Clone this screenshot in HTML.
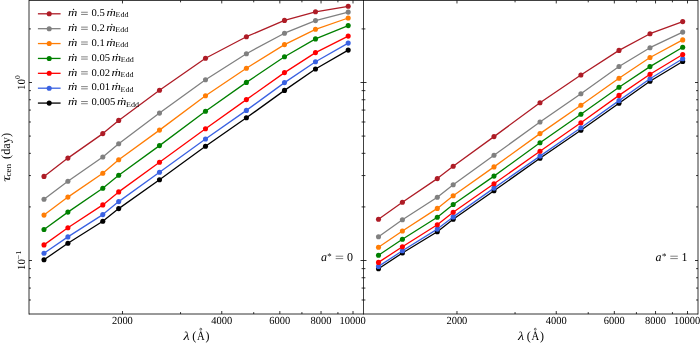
<!DOCTYPE html>
<html><head><meta charset="utf-8"><style>
html,body{margin:0;padding:0;background:#fff;}
body{width:700px;height:343px;overflow:hidden;font-family:"Liberation Serif",serif;}
svg{display:block;text-rendering:geometricPrecision;will-change:transform;}
</style></head><body>
<svg width="700" height="343" viewBox="0 0 700 343"><polyline points="44,259.8 67.9,243.2 102.8,221.2 118.7,208.6 159.5,179.7 205.5,146.3 246.4,117.8 284.5,90.4 315.5,69 348.2,50.1" fill="none" stroke="#000000" stroke-width="1.3" stroke-linejoin="round"/><circle cx="44" cy="259.8" r="2.55" fill="#000000"/><circle cx="67.9" cy="243.2" r="2.55" fill="#000000"/><circle cx="102.8" cy="221.2" r="2.55" fill="#000000"/><circle cx="118.7" cy="208.6" r="2.55" fill="#000000"/><circle cx="159.5" cy="179.7" r="2.55" fill="#000000"/><circle cx="205.5" cy="146.3" r="2.55" fill="#000000"/><circle cx="246.4" cy="117.8" r="2.55" fill="#000000"/><circle cx="284.5" cy="90.4" r="2.55" fill="#000000"/><circle cx="315.5" cy="69" r="2.55" fill="#000000"/><circle cx="348.2" cy="50.1" r="2.55" fill="#000000"/><polyline points="44,253.3 67.9,236.9 102.8,214.6 118.7,201.6 159.5,172.2 205.5,139 246.4,110.4 284.5,82.6 315.5,61.7 348.2,43.1" fill="none" stroke="#3a62e2" stroke-width="1.3" stroke-linejoin="round"/><circle cx="44" cy="253.3" r="2.55" fill="#3a62e2"/><circle cx="67.9" cy="236.9" r="2.55" fill="#3a62e2"/><circle cx="102.8" cy="214.6" r="2.55" fill="#3a62e2"/><circle cx="118.7" cy="201.6" r="2.55" fill="#3a62e2"/><circle cx="159.5" cy="172.2" r="2.55" fill="#3a62e2"/><circle cx="205.5" cy="139" r="2.55" fill="#3a62e2"/><circle cx="246.4" cy="110.4" r="2.55" fill="#3a62e2"/><circle cx="284.5" cy="82.6" r="2.55" fill="#3a62e2"/><circle cx="315.5" cy="61.7" r="2.55" fill="#3a62e2"/><circle cx="348.2" cy="43.1" r="2.55" fill="#3a62e2"/><polyline points="44,244.9 67.9,227.7 102.8,204.9 118.7,191.9 159.5,162.2 205.5,128.8 246.4,99.6 284.5,72.6 315.5,52.6 348.2,36.1" fill="none" stroke="#ff0000" stroke-width="1.3" stroke-linejoin="round"/><circle cx="44" cy="244.9" r="2.55" fill="#ff0000"/><circle cx="67.9" cy="227.7" r="2.55" fill="#ff0000"/><circle cx="102.8" cy="204.9" r="2.55" fill="#ff0000"/><circle cx="118.7" cy="191.9" r="2.55" fill="#ff0000"/><circle cx="159.5" cy="162.2" r="2.55" fill="#ff0000"/><circle cx="205.5" cy="128.8" r="2.55" fill="#ff0000"/><circle cx="246.4" cy="99.6" r="2.55" fill="#ff0000"/><circle cx="284.5" cy="72.6" r="2.55" fill="#ff0000"/><circle cx="315.5" cy="52.6" r="2.55" fill="#ff0000"/><circle cx="348.2" cy="36.1" r="2.55" fill="#ff0000"/><polyline points="44,229.5 67.9,212.1 102.8,188.3 118.7,175.3 159.5,145.6 205.5,111.3 246.4,82.4 284.5,56.8 315.5,38.9 348.2,25.6" fill="none" stroke="#008000" stroke-width="1.3" stroke-linejoin="round"/><circle cx="44" cy="229.5" r="2.55" fill="#008000"/><circle cx="67.9" cy="212.1" r="2.55" fill="#008000"/><circle cx="102.8" cy="188.3" r="2.55" fill="#008000"/><circle cx="118.7" cy="175.3" r="2.55" fill="#008000"/><circle cx="159.5" cy="145.6" r="2.55" fill="#008000"/><circle cx="205.5" cy="111.3" r="2.55" fill="#008000"/><circle cx="246.4" cy="82.4" r="2.55" fill="#008000"/><circle cx="284.5" cy="56.8" r="2.55" fill="#008000"/><circle cx="315.5" cy="38.9" r="2.55" fill="#008000"/><circle cx="348.2" cy="25.6" r="2.55" fill="#008000"/><polyline points="44,215.1 67.9,197.1 102.8,173.3 118.7,159.8 159.5,130.1 205.5,95.8 246.4,68.2 284.5,44.6 315.5,29.3 348.2,18" fill="none" stroke="#ff7d05" stroke-width="1.3" stroke-linejoin="round"/><circle cx="44" cy="215.1" r="2.55" fill="#ff7d05"/><circle cx="67.9" cy="197.1" r="2.55" fill="#ff7d05"/><circle cx="102.8" cy="173.3" r="2.55" fill="#ff7d05"/><circle cx="118.7" cy="159.8" r="2.55" fill="#ff7d05"/><circle cx="159.5" cy="130.1" r="2.55" fill="#ff7d05"/><circle cx="205.5" cy="95.8" r="2.55" fill="#ff7d05"/><circle cx="246.4" cy="68.2" r="2.55" fill="#ff7d05"/><circle cx="284.5" cy="44.6" r="2.55" fill="#ff7d05"/><circle cx="315.5" cy="29.3" r="2.55" fill="#ff7d05"/><circle cx="348.2" cy="18" r="2.55" fill="#ff7d05"/><polyline points="44,199.3 67.9,181.3 102.8,157 118.7,143.7 159.5,113.1 205.5,79.7 246.4,53.7 284.5,33.2 315.5,20.6 348.2,12.1" fill="none" stroke="#808080" stroke-width="1.3" stroke-linejoin="round"/><circle cx="44" cy="199.3" r="2.55" fill="#808080"/><circle cx="67.9" cy="181.3" r="2.55" fill="#808080"/><circle cx="102.8" cy="157" r="2.55" fill="#808080"/><circle cx="118.7" cy="143.7" r="2.55" fill="#808080"/><circle cx="159.5" cy="113.1" r="2.55" fill="#808080"/><circle cx="205.5" cy="79.7" r="2.55" fill="#808080"/><circle cx="246.4" cy="53.7" r="2.55" fill="#808080"/><circle cx="284.5" cy="33.2" r="2.55" fill="#808080"/><circle cx="315.5" cy="20.6" r="2.55" fill="#808080"/><circle cx="348.2" cy="12.1" r="2.55" fill="#808080"/><polyline points="44,176.4 67.9,158.1 102.8,133.6 118.7,120.4 159.5,90.3 205.5,58.3 246.4,36.7 284.5,20.4 315.5,11.8 348.2,6.3" fill="none" stroke="#ae1c26" stroke-width="1.3" stroke-linejoin="round"/><circle cx="44" cy="176.4" r="2.55" fill="#ae1c26"/><circle cx="67.9" cy="158.1" r="2.55" fill="#ae1c26"/><circle cx="102.8" cy="133.6" r="2.55" fill="#ae1c26"/><circle cx="118.7" cy="120.4" r="2.55" fill="#ae1c26"/><circle cx="159.5" cy="90.3" r="2.55" fill="#ae1c26"/><circle cx="205.5" cy="58.3" r="2.55" fill="#ae1c26"/><circle cx="246.4" cy="36.7" r="2.55" fill="#ae1c26"/><circle cx="284.5" cy="20.4" r="2.55" fill="#ae1c26"/><circle cx="315.5" cy="11.8" r="2.55" fill="#ae1c26"/><circle cx="348.2" cy="6.3" r="2.55" fill="#ae1c26"/><polyline points="378.5,268.7 402.4,253 437.3,231.7 453.2,219.2 494,190.7 540,158.3 580.9,130.3 619,103.2 650,81.3 682.7,61.5" fill="none" stroke="#000000" stroke-width="1.3" stroke-linejoin="round"/><circle cx="378.5" cy="268.7" r="2.55" fill="#000000"/><circle cx="402.4" cy="253" r="2.55" fill="#000000"/><circle cx="437.3" cy="231.7" r="2.55" fill="#000000"/><circle cx="453.2" cy="219.2" r="2.55" fill="#000000"/><circle cx="494" cy="190.7" r="2.55" fill="#000000"/><circle cx="540" cy="158.3" r="2.55" fill="#000000"/><circle cx="580.9" cy="130.3" r="2.55" fill="#000000"/><circle cx="619" cy="103.2" r="2.55" fill="#000000"/><circle cx="650" cy="81.3" r="2.55" fill="#000000"/><circle cx="682.7" cy="61.5" r="2.55" fill="#000000"/><polyline points="378.5,266.4 402.4,250.8 437.3,229.1 453.2,216.9 494,188.1 540,156.1 580.9,127.7 619,100.6 650,78.7 682.7,58.8" fill="none" stroke="#3a62e2" stroke-width="1.3" stroke-linejoin="round"/><circle cx="378.5" cy="266.4" r="2.55" fill="#3a62e2"/><circle cx="402.4" cy="250.8" r="2.55" fill="#3a62e2"/><circle cx="437.3" cy="229.1" r="2.55" fill="#3a62e2"/><circle cx="453.2" cy="216.9" r="2.55" fill="#3a62e2"/><circle cx="494" cy="188.1" r="2.55" fill="#3a62e2"/><circle cx="540" cy="156.1" r="2.55" fill="#3a62e2"/><circle cx="580.9" cy="127.7" r="2.55" fill="#3a62e2"/><circle cx="619" cy="100.6" r="2.55" fill="#3a62e2"/><circle cx="650" cy="78.7" r="2.55" fill="#3a62e2"/><circle cx="682.7" cy="58.8" r="2.55" fill="#3a62e2"/><polyline points="378.5,262.4 402.4,246.7 437.3,224.7 453.2,212.2 494,183.7 540,151.3 580.9,122.8 619,95.4 650,74.3 682.7,54.5" fill="none" stroke="#ff0000" stroke-width="1.3" stroke-linejoin="round"/><circle cx="378.5" cy="262.4" r="2.55" fill="#ff0000"/><circle cx="402.4" cy="246.7" r="2.55" fill="#ff0000"/><circle cx="437.3" cy="224.7" r="2.55" fill="#ff0000"/><circle cx="453.2" cy="212.2" r="2.55" fill="#ff0000"/><circle cx="494" cy="183.7" r="2.55" fill="#ff0000"/><circle cx="540" cy="151.3" r="2.55" fill="#ff0000"/><circle cx="580.9" cy="122.8" r="2.55" fill="#ff0000"/><circle cx="619" cy="95.4" r="2.55" fill="#ff0000"/><circle cx="650" cy="74.3" r="2.55" fill="#ff0000"/><circle cx="682.7" cy="54.5" r="2.55" fill="#ff0000"/><polyline points="378.5,255.3 402.4,239.3 437.3,217.2 453.2,204.5 494,176.1 540,142.8 580.9,114.3 619,87.3 650,66.6 682.7,47.3" fill="none" stroke="#008000" stroke-width="1.3" stroke-linejoin="round"/><circle cx="378.5" cy="255.3" r="2.55" fill="#008000"/><circle cx="402.4" cy="239.3" r="2.55" fill="#008000"/><circle cx="437.3" cy="217.2" r="2.55" fill="#008000"/><circle cx="453.2" cy="204.5" r="2.55" fill="#008000"/><circle cx="494" cy="176.1" r="2.55" fill="#008000"/><circle cx="540" cy="142.8" r="2.55" fill="#008000"/><circle cx="580.9" cy="114.3" r="2.55" fill="#008000"/><circle cx="619" cy="87.3" r="2.55" fill="#008000"/><circle cx="650" cy="66.6" r="2.55" fill="#008000"/><circle cx="682.7" cy="47.3" r="2.55" fill="#008000"/><polyline points="378.5,247.3 402.4,231 437.3,208.4 453.2,195.8 494,166.9 540,133.6 580.9,105.2 619,78.2 650,57.5 682.7,39.9" fill="none" stroke="#ff7d05" stroke-width="1.3" stroke-linejoin="round"/><circle cx="378.5" cy="247.3" r="2.55" fill="#ff7d05"/><circle cx="402.4" cy="231" r="2.55" fill="#ff7d05"/><circle cx="437.3" cy="208.4" r="2.55" fill="#ff7d05"/><circle cx="453.2" cy="195.8" r="2.55" fill="#ff7d05"/><circle cx="494" cy="166.9" r="2.55" fill="#ff7d05"/><circle cx="540" cy="133.6" r="2.55" fill="#ff7d05"/><circle cx="580.9" cy="105.2" r="2.55" fill="#ff7d05"/><circle cx="619" cy="78.2" r="2.55" fill="#ff7d05"/><circle cx="650" cy="57.5" r="2.55" fill="#ff7d05"/><circle cx="682.7" cy="39.9" r="2.55" fill="#ff7d05"/><polyline points="378.5,236.7 402.4,219.8 437.3,197.3 453.2,184.7 494,155.3 540,122 580.9,93.7 619,66.5 650,47.7 682.7,32.1" fill="none" stroke="#808080" stroke-width="1.3" stroke-linejoin="round"/><circle cx="378.5" cy="236.7" r="2.55" fill="#808080"/><circle cx="402.4" cy="219.8" r="2.55" fill="#808080"/><circle cx="437.3" cy="197.3" r="2.55" fill="#808080"/><circle cx="453.2" cy="184.7" r="2.55" fill="#808080"/><circle cx="494" cy="155.3" r="2.55" fill="#808080"/><circle cx="540" cy="122" r="2.55" fill="#808080"/><circle cx="580.9" cy="93.7" r="2.55" fill="#808080"/><circle cx="619" cy="66.5" r="2.55" fill="#808080"/><circle cx="650" cy="47.7" r="2.55" fill="#808080"/><circle cx="682.7" cy="32.1" r="2.55" fill="#808080"/><polyline points="378.5,219.2 402.4,202.3 437.3,178.6 453.2,166.3 494,136.6 540,102.8 580.9,75 619,50.4 650,33.7 682.7,21.6" fill="none" stroke="#ae1c26" stroke-width="1.3" stroke-linejoin="round"/><circle cx="378.5" cy="219.2" r="2.55" fill="#ae1c26"/><circle cx="402.4" cy="202.3" r="2.55" fill="#ae1c26"/><circle cx="437.3" cy="178.6" r="2.55" fill="#ae1c26"/><circle cx="453.2" cy="166.3" r="2.55" fill="#ae1c26"/><circle cx="494" cy="136.6" r="2.55" fill="#ae1c26"/><circle cx="540" cy="102.8" r="2.55" fill="#ae1c26"/><circle cx="580.9" cy="75" r="2.55" fill="#ae1c26"/><circle cx="619" cy="50.4" r="2.55" fill="#ae1c26"/><circle cx="650" cy="33.7" r="2.55" fill="#ae1c26"/><circle cx="682.7" cy="21.6" r="2.55" fill="#ae1c26"/><g stroke="#000" stroke-width="0.8" fill="none"><line x1="29.0" y1="0.45" x2="698.0" y2="0.45"/><line x1="29.0" y1="314.0" x2="698.0" y2="314.0"/><line x1="29.0" y1="0" x2="29.0" y2="314.5"/><line x1="698.0" y1="0" x2="698.0" y2="314.5"/><line x1="363.5" y1="0" x2="363.5" y2="314.5" stroke-width="0.75"/><line x1="122.48" y1="0.45" x2="122.48" y2="3.45"/><line x1="122.48" y1="314.0" x2="122.48" y2="311"/><line x1="221.76" y1="0.45" x2="221.76" y2="3.45"/><line x1="221.76" y1="314.0" x2="221.76" y2="311"/><line x1="279.83" y1="0.45" x2="279.83" y2="3.45"/><line x1="279.83" y1="314.0" x2="279.83" y2="311"/><line x1="321.04" y1="0.45" x2="321.04" y2="3.45"/><line x1="321.04" y1="314.0" x2="321.04" y2="311"/><line x1="353" y1="0.45" x2="353" y2="3.45"/><line x1="353" y1="314.0" x2="353" y2="311"/><line x1="180.55" y1="0.45" x2="180.55" y2="2.35"/><line x1="180.55" y1="314.0" x2="180.55" y2="312.1"/><line x1="253.72" y1="0.45" x2="253.72" y2="2.35"/><line x1="253.72" y1="314.0" x2="253.72" y2="312.1"/><line x1="301.91" y1="0.45" x2="301.91" y2="2.35"/><line x1="301.91" y1="314.0" x2="301.91" y2="312.1"/><line x1="337.91" y1="0.45" x2="337.91" y2="2.35"/><line x1="337.91" y1="314.0" x2="337.91" y2="312.1"/><line x1="29" y1="260.5" x2="32" y2="260.5"/><line x1="363.5" y1="260.5" x2="360.5" y2="260.5"/><line x1="29" y1="82.5" x2="32" y2="82.5"/><line x1="363.5" y1="82.5" x2="360.5" y2="82.5"/><line x1="29" y1="299.99" x2="30.9" y2="299.99"/><line x1="363.5" y1="299.99" x2="361.6" y2="299.99"/><line x1="29" y1="288.07" x2="30.9" y2="288.07"/><line x1="363.5" y1="288.07" x2="361.6" y2="288.07"/><line x1="29" y1="277.75" x2="30.9" y2="277.75"/><line x1="363.5" y1="277.75" x2="361.6" y2="277.75"/><line x1="29" y1="268.64" x2="30.9" y2="268.64"/><line x1="363.5" y1="268.64" x2="361.6" y2="268.64"/><line x1="29" y1="206.92" x2="30.9" y2="206.92"/><line x1="363.5" y1="206.92" x2="361.6" y2="206.92"/><line x1="29" y1="175.57" x2="30.9" y2="175.57"/><line x1="363.5" y1="175.57" x2="361.6" y2="175.57"/><line x1="29" y1="153.33" x2="30.9" y2="153.33"/><line x1="363.5" y1="153.33" x2="361.6" y2="153.33"/><line x1="29" y1="136.08" x2="30.9" y2="136.08"/><line x1="363.5" y1="136.08" x2="361.6" y2="136.08"/><line x1="29" y1="121.99" x2="30.9" y2="121.99"/><line x1="363.5" y1="121.99" x2="361.6" y2="121.99"/><line x1="29" y1="110.07" x2="30.9" y2="110.07"/><line x1="363.5" y1="110.07" x2="361.6" y2="110.07"/><line x1="29" y1="99.75" x2="30.9" y2="99.75"/><line x1="363.5" y1="99.75" x2="361.6" y2="99.75"/><line x1="29" y1="90.64" x2="30.9" y2="90.64"/><line x1="363.5" y1="90.64" x2="361.6" y2="90.64"/><line x1="29" y1="28.92" x2="30.9" y2="28.92"/><line x1="363.5" y1="28.92" x2="361.6" y2="28.92"/><line x1="456.98" y1="0.45" x2="456.98" y2="3.45"/><line x1="456.98" y1="314.0" x2="456.98" y2="311"/><line x1="556.26" y1="0.45" x2="556.26" y2="3.45"/><line x1="556.26" y1="314.0" x2="556.26" y2="311"/><line x1="614.33" y1="0.45" x2="614.33" y2="3.45"/><line x1="614.33" y1="314.0" x2="614.33" y2="311"/><line x1="655.54" y1="0.45" x2="655.54" y2="3.45"/><line x1="655.54" y1="314.0" x2="655.54" y2="311"/><line x1="687.5" y1="0.45" x2="687.5" y2="3.45"/><line x1="687.5" y1="314.0" x2="687.5" y2="311"/><line x1="515.05" y1="0.45" x2="515.05" y2="2.35"/><line x1="515.05" y1="314.0" x2="515.05" y2="312.1"/><line x1="588.22" y1="0.45" x2="588.22" y2="2.35"/><line x1="588.22" y1="314.0" x2="588.22" y2="312.1"/><line x1="636.41" y1="0.45" x2="636.41" y2="2.35"/><line x1="636.41" y1="314.0" x2="636.41" y2="312.1"/><line x1="672.41" y1="0.45" x2="672.41" y2="2.35"/><line x1="672.41" y1="314.0" x2="672.41" y2="312.1"/><line x1="363.5" y1="260.5" x2="366.5" y2="260.5"/><line x1="698" y1="260.5" x2="695" y2="260.5"/><line x1="363.5" y1="82.5" x2="366.5" y2="82.5"/><line x1="698" y1="82.5" x2="695" y2="82.5"/><line x1="363.5" y1="299.99" x2="365.4" y2="299.99"/><line x1="698" y1="299.99" x2="696.1" y2="299.99"/><line x1="363.5" y1="288.07" x2="365.4" y2="288.07"/><line x1="698" y1="288.07" x2="696.1" y2="288.07"/><line x1="363.5" y1="277.75" x2="365.4" y2="277.75"/><line x1="698" y1="277.75" x2="696.1" y2="277.75"/><line x1="363.5" y1="268.64" x2="365.4" y2="268.64"/><line x1="698" y1="268.64" x2="696.1" y2="268.64"/><line x1="363.5" y1="206.92" x2="365.4" y2="206.92"/><line x1="698" y1="206.92" x2="696.1" y2="206.92"/><line x1="363.5" y1="175.57" x2="365.4" y2="175.57"/><line x1="698" y1="175.57" x2="696.1" y2="175.57"/><line x1="363.5" y1="153.33" x2="365.4" y2="153.33"/><line x1="698" y1="153.33" x2="696.1" y2="153.33"/><line x1="363.5" y1="136.08" x2="365.4" y2="136.08"/><line x1="698" y1="136.08" x2="696.1" y2="136.08"/><line x1="363.5" y1="121.99" x2="365.4" y2="121.99"/><line x1="698" y1="121.99" x2="696.1" y2="121.99"/><line x1="363.5" y1="110.07" x2="365.4" y2="110.07"/><line x1="698" y1="110.07" x2="696.1" y2="110.07"/><line x1="363.5" y1="99.75" x2="365.4" y2="99.75"/><line x1="698" y1="99.75" x2="696.1" y2="99.75"/><line x1="363.5" y1="90.64" x2="365.4" y2="90.64"/><line x1="698" y1="90.64" x2="696.1" y2="90.64"/><line x1="363.5" y1="28.92" x2="365.4" y2="28.92"/><line x1="698" y1="28.92" x2="696.1" y2="28.92"/></g><line x1="37.9" y1="13.8" x2="60.6" y2="13.8" stroke="#ae1c26" stroke-width="1.3"/><circle cx="49.2" cy="13.8" r="2.55" fill="#ae1c26"/><line x1="37.9" y1="28.68" x2="60.6" y2="28.68" stroke="#808080" stroke-width="1.3"/><circle cx="49.2" cy="28.68" r="2.55" fill="#808080"/><line x1="37.9" y1="43.56" x2="60.6" y2="43.56" stroke="#ff7d05" stroke-width="1.3"/><circle cx="49.2" cy="43.56" r="2.55" fill="#ff7d05"/><line x1="37.9" y1="58.44" x2="60.6" y2="58.44" stroke="#008000" stroke-width="1.3"/><circle cx="49.2" cy="58.44" r="2.55" fill="#008000"/><line x1="37.9" y1="73.32" x2="60.6" y2="73.32" stroke="#ff0000" stroke-width="1.3"/><circle cx="49.2" cy="73.32" r="2.55" fill="#ff0000"/><line x1="37.9" y1="88.2" x2="60.6" y2="88.2" stroke="#3a62e2" stroke-width="1.3"/><circle cx="49.2" cy="88.2" r="2.55" fill="#3a62e2"/><line x1="37.9" y1="103.08" x2="60.6" y2="103.08" stroke="#000000" stroke-width="1.3"/><circle cx="49.2" cy="103.08" r="2.55" fill="#000000"/><g stroke="#1a1a1a" stroke-width="0.55"><line x1="335.7" y1="256.2" x2="343.2" y2="256.2"/><line x1="335.7" y1="258.6" x2="343.2" y2="258.6"/><line x1="670.3" y1="256.2" x2="677.8" y2="256.2"/><line x1="670.3" y1="258.6" x2="677.8" y2="258.6"/><line x1="81.1" y1="12.25" x2="87.8" y2="12.25"/><line x1="81.1" y1="14.45" x2="87.8" y2="14.45"/><line x1="81.1" y1="27.13" x2="87.8" y2="27.13"/><line x1="81.1" y1="29.33" x2="87.8" y2="29.33"/><line x1="81.1" y1="42.01" x2="87.8" y2="42.01"/><line x1="81.1" y1="44.21" x2="87.8" y2="44.21"/><line x1="81.1" y1="56.89" x2="87.8" y2="56.89"/><line x1="81.1" y1="59.09" x2="87.8" y2="59.09"/><line x1="81.1" y1="71.77" x2="87.8" y2="71.77"/><line x1="81.1" y1="73.97" x2="87.8" y2="73.97"/><line x1="81.1" y1="86.65" x2="87.8" y2="86.65"/><line x1="81.1" y1="88.85" x2="87.8" y2="88.85"/><line x1="81.1" y1="101.53" x2="87.8" y2="101.53"/><line x1="81.1" y1="103.73" x2="87.8" y2="103.73"/></g><g font-family="Liberation Serif, serif" fill="#000"><text transform="translate(111.91,323.7) scale(0.97,1)" font-size="10.8">2000</text><text transform="translate(211.32,323.7) scale(0.97,1)" font-size="10.8">4000</text><text transform="translate(269.28,323.7) scale(0.97,1)" font-size="10.8">6000</text><text transform="translate(310.51,323.7) scale(0.97,1)" font-size="10.8">8000</text><text transform="translate(339.57,323.7) scale(0.97,1)" font-size="10.8">10000</text><text transform="translate(446.41,323.7) scale(0.97,1)" font-size="10.8">2000</text><text transform="translate(545.82,323.7) scale(0.97,1)" font-size="10.8">4000</text><text transform="translate(603.78,323.7) scale(0.97,1)" font-size="10.8">6000</text><text transform="translate(645.01,323.7) scale(0.97,1)" font-size="10.8">8000</text><text transform="translate(674.07,323.7) scale(0.97,1)" font-size="10.8">10000</text><text transform="translate(24.8,89.94) rotate(-90) scale(0.98,1)" font-size="11">10</text><text transform="translate(20.2,79.08) rotate(-90) scale(1,1)" font-size="7.4">0</text><text transform="translate(24.6,269.93) rotate(-90) scale(0.97,1)" font-size="11">10</text><text transform="translate(20.8,259.63) rotate(-90) scale(1.16,1)" font-size="7.4">−1</text><text transform="translate(9.5,181.77) rotate(-90) scale(1.37,1)" font-size="12" font-style="italic">τ</text><text transform="translate(10.8,176.44) rotate(-90) scale(1.08,1)" font-size="8.4">cen</text><text transform="translate(9.8,158.96) rotate(-90) scale(0.99,1)" font-size="12.5">(day)</text><text transform="translate(183.45,339.6) scale(1.18,1)" font-size="12" font-style="italic">λ</text><text transform="translate(192.26,339.6) scale(0.95,1)" font-size="12.6">(</text><text transform="translate(196.89,339.6) scale(0.83,1)" font-size="12.8">A</text><text transform="translate(205.51,339.6) scale(0.95,1)" font-size="12.6">)</text><text transform="translate(517.95,339.6) scale(1.18,1)" font-size="12" font-style="italic">λ</text><text transform="translate(526.76,339.6) scale(0.95,1)" font-size="12.6">(</text><text transform="translate(531.39,339.6) scale(0.83,1)" font-size="12.8">A</text><text transform="translate(540.01,339.6) scale(0.95,1)" font-size="12.6">)</text><text x="320.94" y="260.6" font-size="12" font-style="italic">a</text><text x="327.36" y="258.8" font-size="8.8">*</text><text x="347.05" y="260.6" font-size="12">0</text><text x="655.54" y="260.6" font-size="12" font-style="italic">a</text><text x="661.96" y="258.8" font-size="8.8">*</text><text x="681.55" y="260.6" font-size="12">1</text><text transform="translate(68.01,16.05) scale(1.2,1)" font-size="10.8" font-style="italic">ṁ</text><text transform="translate(91.5,16.05) scale(1.04,1)" font-size="10.2">0.5</text><text transform="translate(106.41,16.05) scale(1.2,1)" font-size="10.8" font-style="italic">ṁ</text><text transform="translate(115.46,17.45) scale(1.09,1)" font-size="7.4">Edd</text><text transform="translate(68.01,30.93) scale(1.2,1)" font-size="10.8" font-style="italic">ṁ</text><text transform="translate(91.5,30.93) scale(1.04,1)" font-size="10.2">0.2</text><text transform="translate(106.26,30.93) scale(1.2,1)" font-size="10.8" font-style="italic">ṁ</text><text transform="translate(115.3,32.33) scale(1.09,1)" font-size="7.4">Edd</text><text transform="translate(68.01,45.81) scale(1.2,1)" font-size="10.8" font-style="italic">ṁ</text><text transform="translate(91.5,45.81) scale(1.04,1)" font-size="10.2">0.1</text><text transform="translate(106.2,45.81) scale(1.2,1)" font-size="10.8" font-style="italic">ṁ</text><text transform="translate(115.25,47.21) scale(1.09,1)" font-size="7.4">Edd</text><text transform="translate(68.01,60.69) scale(1.2,1)" font-size="10.8" font-style="italic">ṁ</text><text transform="translate(91.5,60.69) scale(1.04,1)" font-size="10.2">0.05</text><text transform="translate(111.7,60.69) scale(1.2,1)" font-size="10.8" font-style="italic">ṁ</text><text transform="translate(120.75,62.09) scale(1.09,1)" font-size="7.4">Edd</text><text transform="translate(68.01,75.57) scale(1.2,1)" font-size="10.8" font-style="italic">ṁ</text><text transform="translate(91.5,75.57) scale(1.04,1)" font-size="10.2">0.02</text><text transform="translate(111.54,75.57) scale(1.2,1)" font-size="10.8" font-style="italic">ṁ</text><text transform="translate(120.59,76.97) scale(1.09,1)" font-size="7.4">Edd</text><text transform="translate(68.01,90.45) scale(1.2,1)" font-size="10.8" font-style="italic">ṁ</text><text transform="translate(91.5,90.45) scale(1.04,1)" font-size="10.2">0.01</text><text transform="translate(111.49,90.45) scale(1.2,1)" font-size="10.8" font-style="italic">ṁ</text><text transform="translate(120.54,91.85) scale(1.09,1)" font-size="7.4">Edd</text><text transform="translate(68.01,105.33) scale(1.2,1)" font-size="10.8" font-style="italic">ṁ</text><text transform="translate(91.5,105.33) scale(1.04,1)" font-size="10.2">0.005</text><text transform="translate(116.99,105.33) scale(1.2,1)" font-size="10.8" font-style="italic">ṁ</text><text transform="translate(126.03,106.73) scale(1.09,1)" font-size="7.4">Edd</text></g><circle cx="200.8" cy="329.2" r="0.95" fill="none" stroke="#000" stroke-width="0.6"/><circle cx="535.3" cy="329.2" r="0.95" fill="none" stroke="#000" stroke-width="0.6"/></svg>
</body></html>
